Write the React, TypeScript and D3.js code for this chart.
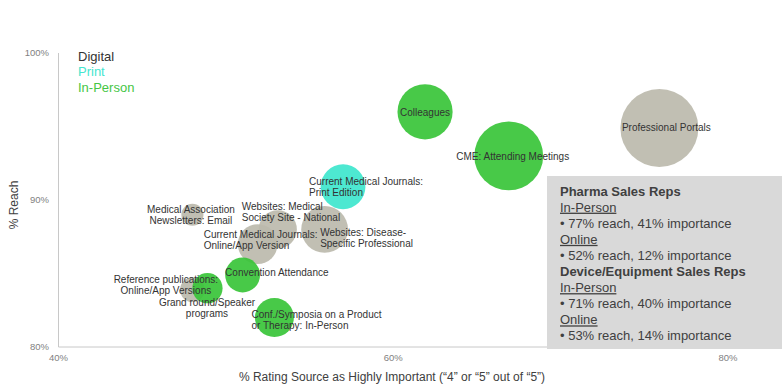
import React, { useRef, useEffect } from 'react';
import * as d3 from 'd3';

// channel of each source
const sources = [
  'Professional Portals',
  'Colleagues',
  'CME: Attending Meetings',
  'Current Medical Journals: Print Edition',
  'Medical Association Newsletters: Email',
  'Websites: Medical Society Site - National',
  'Current Medical Journals: Online/App Version',
  'Websites: Disease-Specific Professional',
  'Convention Attendance',
  'Reference publications: Online/App Versions',
  'Grand round/Speaker programs',
  'Conf./Symposia on a Product or Therapy: In-Person',
];
const channels = ['Digital', 'In-Person', 'In-Person', 'Print', 'Digital', 'Digital', 'Digital', 'Digital', 'In-Person', 'Digital', 'In-Person', 'In-Person'];
const importance = [75.9, 61.9, 66.9, 57.0, 48.0, 53.1, 51.9, 55.9, 51.0, 48.0, 48.9, 52.9];
const reach = [94.9, 96.0, 93.0, 90.9, 89.0, 88.0, 87.0, 88.0, 84.9, 83.9, 84.0, 82.0];
const bubbleSize = [100, 50, 78, 33, 8, 24, 26, 36, 20, 10, 15, 25];

const labelLines = [
  ['Professional Portals'],
  ['Colleagues'],
  ['CME: Attending Meetings'],
  ['Current Medical Journals:', 'Print Edition'],
  ['Medical Association', 'Newsletters: Email'],
  ['Websites: Medical', 'Society Site - National'],
  ['Current Medical Journals:', 'Online/App Version'],
  ['Websites: Disease-', 'Specific Professional'],
  ['Convention Attendance'],
  ['Reference publications:', 'Online/App Versions'],
  ['Grand round/Speaker', 'programs'],
  ['Conf./Symposia on a Product', 'or Therapy: In-Person'],
];

const xTicks = [40, 60, 80];
const yTicks = [80, 90, 100];
const legendItems = ['Digital', 'Print', 'In-Person'];

const calloutLines = [
  { text: 'Pharma Sales Reps', kind: 'head' },
  { text: 'In-Person', kind: 'sub' },
  { text: '•  77% reach, 41% importance', kind: 'item' },
  { text: 'Online', kind: 'sub' },
  { text: '•  52% reach, 12% importance', kind: 'item' },
  { text: 'Device/Equipment Sales Reps', kind: 'head' },
  { text: 'In-Person', kind: 'sub' },
  { text: '•  71% reach, 40% importance', kind: 'item' },
  { text: 'Online', kind: 'sub' },
  { text: '•  53% reach, 14% importance', kind: 'item' },
];

// label placement relative to bubble centre: [anchor, dx, dy of first line]
const labelPlace: [string, number, number][] = [
  ['middle', 7, 0],
  ['middle', 0, 1],
  ['middle', 4, 1],
  ['start', -34, -5.5],
  ['middle', -1.5, -5],
  ['start', -36, -23],
  ['start', -54, -9.5],
  ['start', -4.5, 3],
  ['start', -17.5, -2.8],
  ['middle', -26.5, -10.5],
  ['middle', -0.5, 14.5],
  ['start', -23, -3.5],
];

const colors: Record<string, string> = {
  'Digital': '#bcbaad',
  'Print': '#3ee6cd',
  'In-Person': '#38c438',
};
const legendColors: Record<string, string> = {
  'Digital': '#333333',
  'Print': '#45e6cf',
  'In-Person': '#45c645',
};

const FONT = '"Liberation Sans", Arial, sans-serif';

export default function App() {
  const ref = useRef<SVGSVGElement>(null);

  useEffect(() => {
    const svg = d3.select(ref.current);
    svg.selectAll('*').remove();

    const x = d3.scaleLinear().domain([40, 80]).range([58.5, 728]);
    const y = d3.scaleLinear().domain([80, 100]).range([347, 53]);
    const r = d3.scaleSqrt().domain([0, 100]).range([0, 39]);

    const g = svg.append('g').style('font-family', FONT);

    // axes lines
    g.append('line')
      .attr('x1', x(40)).attr('x2', 782)
      .attr('y1', y(80)).attr('y2', y(80))
      .attr('stroke', '#c8c8c8');
    g.append('line')
      .attr('x1', x(40)).attr('x2', x(40))
      .attr('y1', y(80)).attr('y2', y(100))
      .attr('stroke', '#c8c8c8');

    g.selectAll('.xt').data(xTicks).enter().append('text')
      .attr('x', d => x(d)).attr('y', 358).attr('dy', '0.35em')
      .attr('text-anchor', 'middle')
      .attr('font-size', 9.5).attr('fill', '#7f7f7f')
      .text(d => d + '%');

    g.selectAll('.yt').data(yTicks).enter().append('text')
      .attr('x', 49).attr('y', d => y(d)).attr('dy', '0.35em')
      .attr('text-anchor', 'end')
      .attr('font-size', 9.5).attr('fill', '#7f7f7f')
      .text(d => d + '%');

    g.append('text')
      .attr('x', 392).attr('y', 377).attr('dy', '0.35em')
      .attr('text-anchor', 'middle')
      .attr('font-size', 12).attr('fill', '#404040')
      .text('% Rating Source as Highly Important (\u201c4\u201d or \u201c5\u201d out of \u201c5\u201d)');

    g.append('text')
      .attr('transform', 'translate(14,205) rotate(-90)')
      .attr('dy', '0.35em')
      .attr('text-anchor', 'middle')
      .attr('font-size', 12).attr('fill', '#404040')
      .text('% Reach');

    // bubbles
    const idx = d3.range(sources.length);
    g.selectAll('.bubble').data(idx).enter().append('circle')
      .attr('class', 'bubble')
      .attr('cx', i => x(importance[i]))
      .attr('cy', i => y(reach[i]))
      .attr('r', i => r(bubbleSize[i]))
      .attr('fill', i => colors[channels[i]])
      .attr('fill-opacity', 0.92);

    // labels
    idx.forEach(i => {
      const [anchor, dx, dy] = labelPlace[i];
      const t = g.append('text')
        .attr('text-anchor', anchor)
        .attr('font-size', 10)
        .attr('fill', '#333333');
      labelLines[i].forEach((line, k) => {
        t.append('tspan')
          .attr('x', x(importance[i]) + dx)
          .attr('y', y(reach[i]) + dy + k * 11)
          .attr('dy', '0.35em')
          .text(line);
      });
    });

    // legend
    g.selectAll('.legend').data(legendItems).enter().append('text')
      .attr('x', 78).attr('y', (d, i) => 56 + i * 15.6).attr('dy', '0.35em')
      .attr('font-size', 13)
      .attr('fill', d => legendColors[d])
      .text(d => d);

    // callout box
    g.append('rect')
      .attr('x', 547).attr('y', 176)
      .attr('width', 240).attr('height', 173)
      .attr('fill', '#d9d9d9');

    g.selectAll('.callout').data(calloutLines).enter().append('text')
      .attr('x', 560)
      .attr('y', (d, i) => 191 + i * 16.1)
      .attr('dy', '0.35em')
      .attr('font-size', 13)
      .attr('font-weight', d => d.kind === 'head' ? 'bold' : 'normal')
      .attr('text-decoration', d => d.kind === 'sub' ? 'underline' : 'none')
      .attr('fill', '#404040')
      .text(d => d.text);
  }, []);

  return (
    <svg ref={ref} width={782} height={391}
      style={{ position: 'absolute', left: 0, top: 0, background: '#fff' }} />
  );
}
